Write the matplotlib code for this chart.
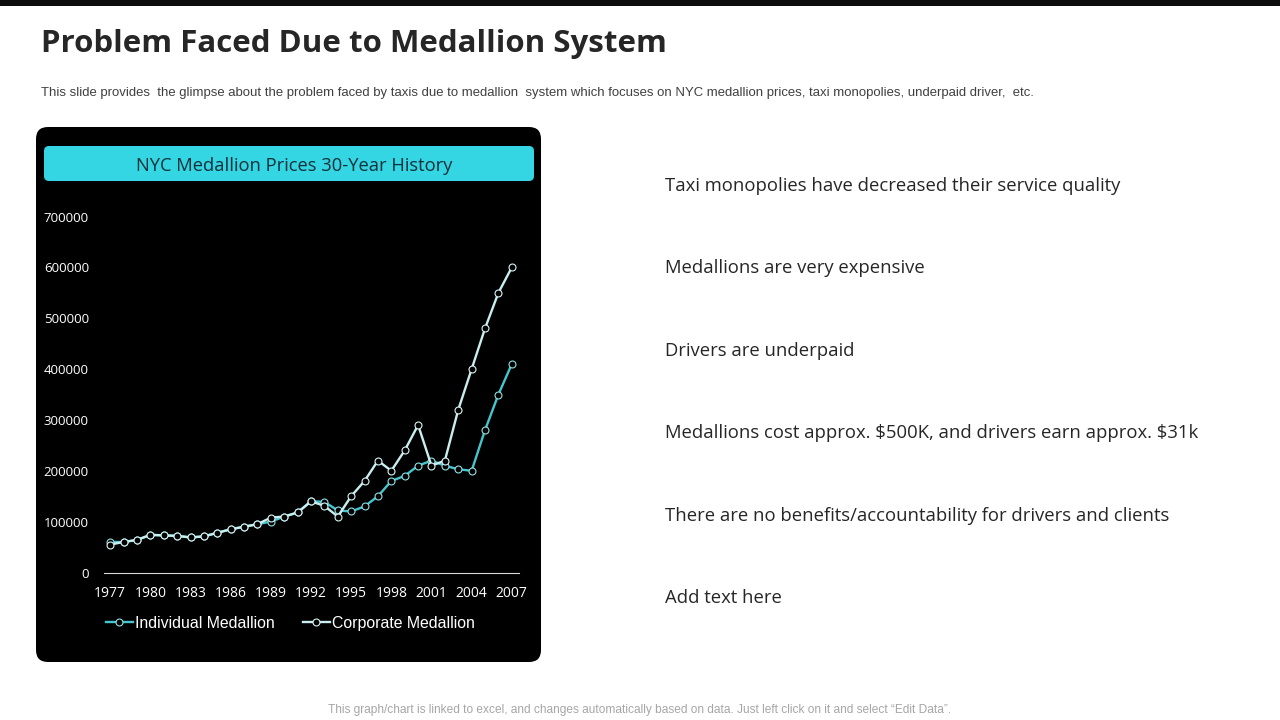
import matplotlib
matplotlib.use("Agg")
import matplotlib.pyplot as plt
from matplotlib.patches import FancyBboxPatch, Rectangle

years = list(range(1977, 2008))
tick_labels = [str(y) for y in years[::3]]
individual = [60000, 60000, 64000, 74000, 73000, 72000, 69000, 71000, 78000, 85000, 90000,
              95000, 100000, 110000, 118000, 140000, 139000, 122000, 120000, 130000, 150000,
              180000, 190000, 210000, 220000, 210000, 203000, 200000, 280000, 350000, 410000]
corporate = [55000, 60000, 64000, 74000, 73000, 72000, 69000, 71000, 78000, 85000, 90000,
             95000, 108000, 110000, 118000, 140000, 131000, 110000, 150000, 180000, 220000,
             200000, 240000, 290000, 210000, 220000, 320000, 400000, 480000, 550000, 600000]
y_ticks = [0, 100000, 200000, 300000, 400000, 500000, 600000, 700000]

title = "Problem Faced Due to Medallion System"
subtitle = ("This slide provides  the glimpse about the problem faced by taxis due to medallion  system "
            "which focuses on NYC medallion prices, taxi monopolies, underpaid driver,  etc.")
chart_title = "NYC Medallion Prices 30-Year History"
points = ["Taxi monopolies have decreased their service quality",
          "Medallions are very expensive",
          "Drivers are underpaid",
          r"Medallions cost approx. \$500K, and drivers earn approx. \$31k",
          "There are no benefits/accountability for drivers and clients",
          "Add text here"]
point_y = [184, 266, 349, 431, 514, 596]
footer = "This graph/chart is linked to excel, and changes automatically based on data. Just left click on it and select \u201cEdit Data\u201d."

W, H = 1280, 720
fig = plt.figure(figsize=(12.8, 7.2), dpi=100, facecolor="white")

# slide layer in pixel coordinates
bg = fig.add_axes([0, 0, 1, 1])
bg.set_xlim(0, W)
bg.set_ylim(H, 0)
bg.axis("off")
bg.add_patch(Rectangle((0, 0), W, 6, color="#0d0d0d", lw=0))
bg.add_patch(FancyBboxPatch((48, 139), 481, 511, boxstyle="round,pad=12,rounding_size=12",
                            fc="black", ec="none"))
bg.add_patch(FancyBboxPatch((48, 150), 482, 27, boxstyle="round,pad=4,rounding_size=5",
                            fc="#33d6e2", ec="none"))
bg.text(41, 44, title, fontsize=22.5, fontweight="bold", family="Open Sans", color="#262626",
        va="center", ha="left")
bg.text(41, 93, subtitle, fontsize=9.47, family="Liberation Sans", color="#404040", va="center", ha="left")
bg.text(294.5, 166, chart_title, fontsize=13.25, family="Open Sans", color="#10303a", va="center", ha="center")
for txt, py in zip(points, point_y):
    bg.text(665, py + 2, txt, fontsize=13.3, family="Open Sans", color="#262626", va="center", ha="left")
bg.text(640, 710, footer, fontsize=8.6, family="Liberation Sans", color="#a6a6a6", va="center", ha="center")

# line chart
ax = fig.add_axes([103.5 / W, 1 - 572.5 / H, 415 / W, 356 / H])
ax.patch.set_alpha(0)
x = list(range(len(years)))
ax.plot(x, individual, color="#45c6cf", lw=1.7, marker="o", ms=5, mfc="black", mec="#8fe0e5",
        mew=0.8, label="Individual Medallion")
ax.plot(x, corporate, color="#c9eef0", lw=1.7, marker="o", ms=5, mfc="black", mec="#d8f4f6",
        mew=0.8, label="Corporate Medallion")
ax.set_xlim(-0.5, len(years) - 0.5)
ax.set_ylim(0, 700000)
ax.set_xticks(x[::3], tick_labels)
ax.set_yticks(y_ticks, [str(v) for v in y_ticks])
ax.tick_params(axis="both", length=0, labelcolor="white", labelsize=10)
ax.tick_params(axis="x", pad=10)
ax.tick_params(axis="y", pad=10.5, labelsize=9.5)
for label in ax.get_xticklabels() + ax.get_yticklabels():
    label.set_family("Open Sans")
for side in ["top", "right", "left"]:
    ax.spines[side].set_visible(False)
ax.spines["bottom"].set_color("#d9d9d9")
ax.spines["bottom"].set_linewidth(0.8)

leg = ax.legend(loc="center", bbox_to_anchor=(0.45, -0.143), ncol=2, frameon=False,
                prop={"family": "Liberation Sans", "size": 11.4}, handlelength=1.7,
                columnspacing=1.77, handletextpad=0.13)
for t in leg.get_texts():
    t.set_color("white")

fig.savefig("out.png", dpi=100)
